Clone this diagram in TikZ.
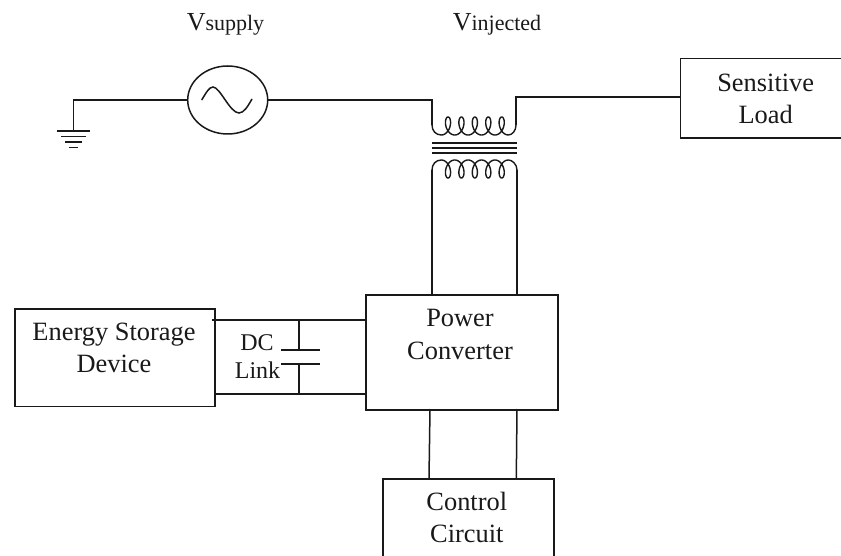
\documentclass[tikz,border=0pt]{standalone}
\usepackage{fontspec}
\usetikzlibrary{shapes.geometric}
\setmainfont{Liberation Serif}
\tikzset{
  wire/.style={draw=black!90,line width=1.5pt},
  lead/.style={draw=black!90,line width=2pt},
  boxn/.style={draw=black!90,line width=1.7pt,inner sep=0pt,anchor=north west},
  lbl/.style={inner sep=0pt,align=center,text=black!90,font=\fontsize{26.4}{32.2}\selectfont,anchor=base},
  small/.style={inner sep=0pt,anchor=base,text=black!90,font=\fontsize{24}{28}\selectfont},
  coil/.style={draw=black!90,line width=1.4pt,line join=round}
}
\begin{document}
\begin{tikzpicture}[x=1pt,y=-1pt]
\clip (0,0) rectangle (841,556);
% boxes
\node[boxn,minimum width=180pt,minimum height=79.5pt] (load) at (679.5,57.7) {};
\node[boxn,minimum width=200pt,minimum height=97.5pt] (esd) at (14,308) {};
\node[boxn,minimum width=192pt,minimum height=115pt] (conv) at (365,294) {};
\node[boxn,minimum width=171pt,minimum height=110pt] (ctrl) at (382,478) {};
% texts
\node[lbl] (tload) at (765.7,123.3) {Sensitive\\Load};
\node[lbl] (tesd) at (114,372.7) {Energy Storage\\Device};
\node[lbl] (tconv) at (460,359) {Power\\Converter};
\node[lbl] (tctrl) at (466.8,542.7) {Control\\Circuit};
\node[small] (tdc) at (257,350) {DC};
\node[small] (tlink) at (257.5,378) {Link};
\node[inner sep=0pt,anchor=base,text=black!90] (vs) at (225.5,30.7) {\fontsize{26}{30}\selectfont V\fontsize{22}{26}\selectfont supply};
\node[inner sep=0pt,anchor=base,text=black!90] (vi) at (497,30.7) {\fontsize{26}{30}\selectfont V\fontsize{22}{26}\selectfont injected};
% source
\node[draw=black!90,line width=1.5pt,ellipse,minimum width=80pt,minimum height=68pt,inner sep=0pt] (src) at (227.7,100) {};
\draw[wire] (201.7,100) .. controls (206,93) and (209,87) .. (213,87) .. controls (220,87) and (230,113) .. (239,113) .. controls (244,113) and (248,106) .. (252,99);
% ground
\coordinate (gnd) at (73.7,131);
\draw[wire] (src.west) -| (gnd);
\draw[wire] (57,131) -- (90,131);
\draw[wire] (61,136.5) -- (86,136.5);
\draw[wire] (65,142) -- (82,142);
\draw[wire] (69,147.5) -- (78,147.5);
% transformer
\coordinate (tl) at (432,125);
\coordinate (tr) at (516,125);
\coordinate (bl) at (432,170);
\coordinate (br) at (517,170);
\draw[wire] (src.east) -- (432,100) -- (tl);
\draw[wire] (tr) -- (516,97) -- (load.west |- 0,97);
\draw[coil] (tl) .. controls (432,131) and (436,135) .. (441.3,135)
  -- plot[domain=0:1800,samples=240,smooth] ({441.3+0.03728*\x+5.5*sin(\x)},{126+9*cos(\x)})
  .. controls (512,135) and (516,131) .. (tr);
\draw[coil] (bl) .. controls (432,164) and (436,160) .. (441.3,160)
  -- plot[domain=0:1800,samples=240,smooth] ({441.3+0.03728*\x+5.5*sin(\x)},{169-9*cos(\x)})
  .. controls (512,160) and (517,164) .. (br);
\foreach \y in {143.3,148.2,152.7}{\draw[line width=2pt,black!90] (432,\y) -- (517,\y);}
\draw[lead] (bl) -- (bl |- conv.north);
\draw[lead] (br) -- (br |- conv.north);
% dc link
\coordinate (ut) at (conv.west |- 0,320);
\coordinate (lt) at (conv.west |- 0,394);
\coordinate (et) at (212,320);
\coordinate (eb) at (214,394);
\draw[wire] (et) -- (ut);
\draw[wire] (eb) -- (lt);
\coordinate (p1) at (299,350);
\coordinate (p2) at (299,364);
\draw[wire] (p1 |- ut) -- (p1);
\draw[wire] (p2) -- (p2 |- lt);
\draw[wire] (281,350) -- (320,350);
\draw[wire] (281,364) -- (320,364);
% control
\draw[wire] (430,409) -- (429,478);
\draw[wire] (517,409) -- (516.3,478);
\end{tikzpicture}
\end{document}
